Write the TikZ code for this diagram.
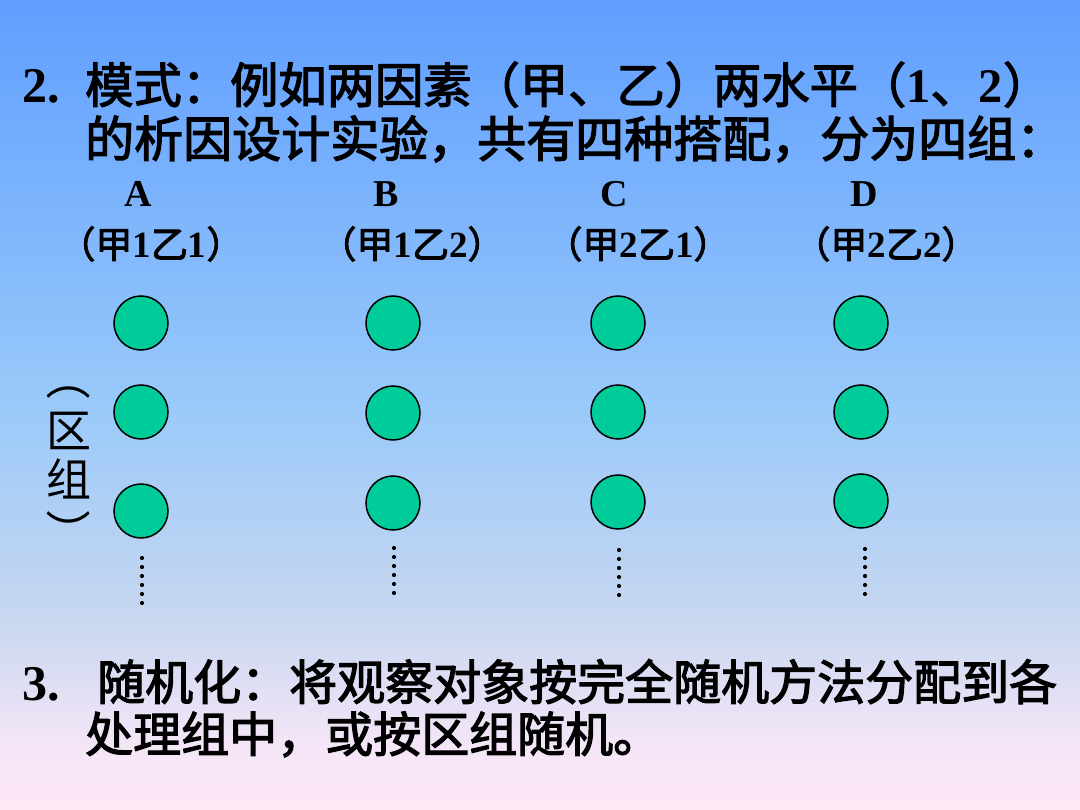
\documentclass[tikz,border=0pt]{standalone}
\usepackage{fontspec}
\setmainfont{Liberation Serif}
\newfontfamily\cjk{Noto Sans CJK SC}
\newfontfamily\cjkb{Noto Sans CJK SC}[FakeBold=2.5]
\newcommand\lat[1]{{\rmfamily\bfseries #1}}
\definecolor{bgtop}{RGB}{95,158,255}
\definecolor{bgmid}{RGB}{152,201,250}
\definecolor{bglow}{RGB}{200,215,240}
\definecolor{bgpink}{RGB}{243,229,247}
\definecolor{bgbot}{RGB}{255,232,246}
\definecolor{circgreen}{RGB}{0,204,153}
\pgfdeclareverticalshading{slidebg}{100bp}{color(0bp)=(bgbot); color(25bp)=(bgbot); color(29.3bp)=(bgpink); color(36.7bp)=(bglow); color(50.3bp)=(bgmid); color(75bp)=(bgtop); color(100bp)=(bgtop)}
\tikzset{
  ball/.style={circle, draw=black, line width=1.5pt, fill=circgreen, minimum size=54pt, inner sep=0pt},
  linetext/.style={anchor=base west, inner sep=0pt},
  grpletter/.style={anchor=base, inner sep=0pt, font=\rmfamily\bfseries\fontsize{38}{38}\selectfont},
  grplabel/.style={anchor=base, inner sep=0pt, font=\fontsize{37}{37}\selectfont\cjkb},
  vlabel/.style={anchor=center, inner sep=0pt, font=\fontsize{45}{45}\selectfont\cjk},
  dotline/.style={line width=4.2pt, line cap=round, dash pattern=on 0pt off 9pt},
}
\begin{document}
\begin{tikzpicture}[x=1pt, y=-1pt]
\useasboundingbox (0,0) rectangle (1080,810);
\shade[shading=slidebg] (0,0) rectangle (1080,810);

% heading
\node[linetext, font=\rmfamily\bfseries\fontsize{50}{50}\selectfont] (n2) at (22,103) {2.};
\node[linetext, font=\fontsize{48.3}{50}\selectfont] (l1) at (85,103) {\cjkb 模式：例如两因素（甲、乙）两水平（\lat{1}、\lat{2}）};
\node[linetext, font=\fontsize{49}{50}\selectfont] (l2) at (85,157) {\cjkb 的析因设计实验，共有四种搭配，分为四组：};

% group letters
\node[grpletter] (A) at (138,207) {A};
\node[grpletter] (B) at (386,207) {B};
\node[grpletter] (C) at (614,207) {C};
\node[grpletter] (D) at (864,207) {D};
\node[grplabel] (Al) at (151,258) {（甲\lat{1}乙\lat{1}）};
\node[grplabel] (Bl) at (412,258) {（甲\lat{1}乙\lat{2}）};
\node[grplabel] (Cl) at (638,258) {（甲\lat{2}乙\lat{1}）};
\node[grplabel] (Dl) at (886,258) {（甲\lat{2}乙\lat{2}）};

% circles
\node[ball] (a1) at (141,323) {};
\node[ball] (a2) at (141,412) {};
\node[ball] (a3) at (141,511) {};
\node[ball] (b1) at (393,323) {};
\node[ball] (b2) at (393,413) {};
\node[ball] (b3) at (393,503) {};
\node[ball] (c1) at (618,323) {};
\node[ball] (c2) at (618,412) {};
\node[ball] (c3) at (618,502) {};
\node[ball] (d1) at (861,323) {};
\node[ball] (d2) at (861,412) {};
\node[ball] (d3) at (861,501) {};

% vertical dots
\coordinate (ad1) at (142,558); \coordinate (ad2) at (142,603.5);
\coordinate (bd1) at (394,548); \coordinate (bd2) at (394,593.5);
\coordinate (cd1) at (619,550); \coordinate (cd2) at (619,595.5);
\coordinate (dd1) at (865,549); \coordinate (dd2) at (865,594.5);
\draw[dotline] (ad1) -- (ad2);
\draw[dotline] (bd1) -- (bd2);
\draw[dotline] (cd1) -- (cd2);
\draw[dotline] (dd1) -- (dd2);

% vertical label (区组)
\node[vlabel, rotate=-90] (vp1) at (69,378) {（};
\node[vlabel] (vq) at (69,431) {区};
\node[vlabel] (vz) at (69,479) {组};
\node[vlabel, rotate=-90] (vp2) at (69,532) {）};

% point 3
\node[linetext, font=\rmfamily\bfseries\fontsize{50}{50}\selectfont] (n3) at (22,700) {3.};
\node[linetext, font=\fontsize{48}{50}\selectfont] (l3) at (97,700) {\cjkb 随机化：将观察对象按完全随机方法分配到各};
\node[linetext, font=\fontsize{48}{50}\selectfont] (l4) at (85,752) {\cjkb 处理组中，或按区组随机。};
\end{tikzpicture}
\end{document}
